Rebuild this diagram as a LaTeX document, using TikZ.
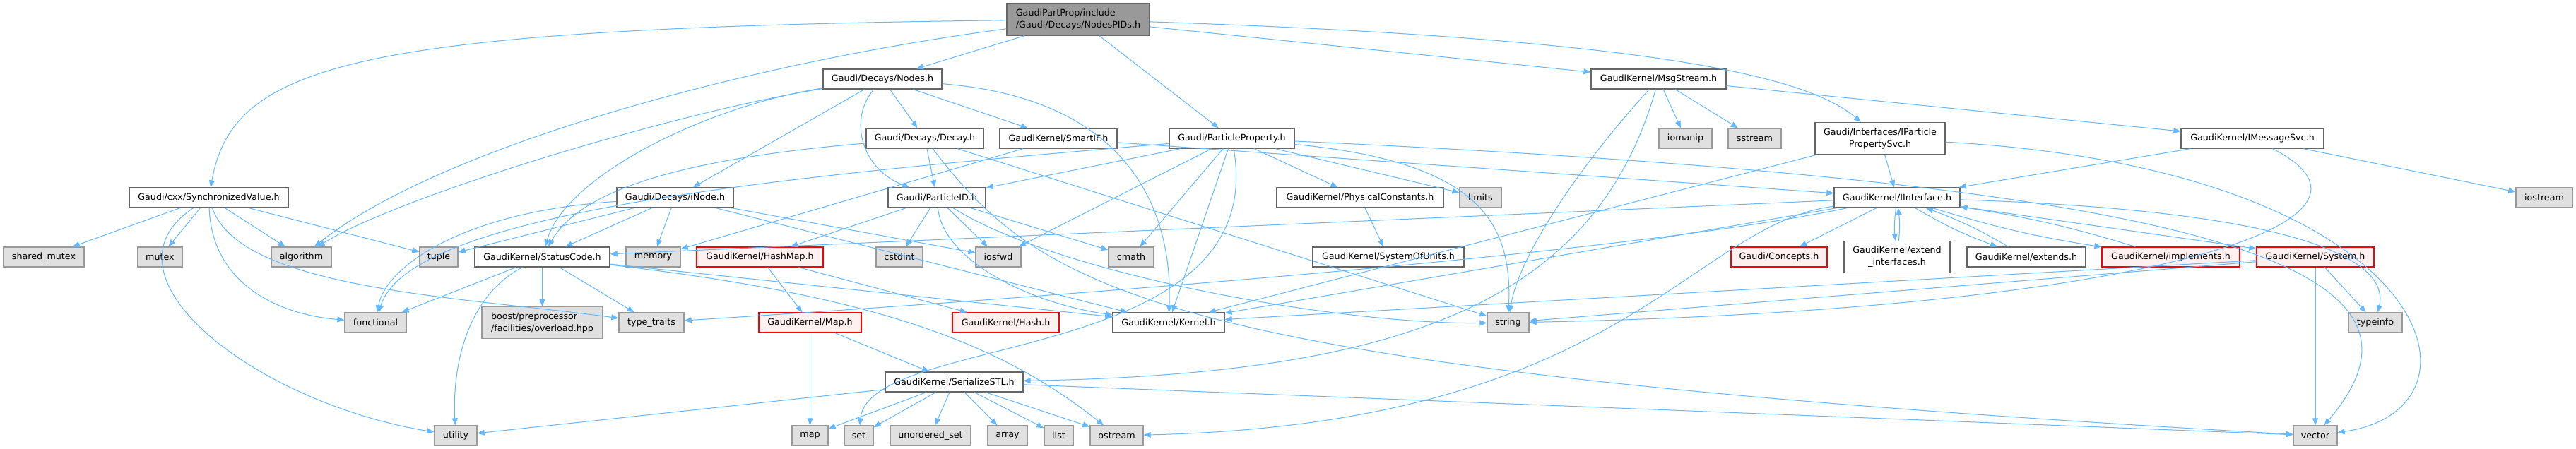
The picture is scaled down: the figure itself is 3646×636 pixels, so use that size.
\documentclass[tikz,border=0pt]{standalone}
\usepackage{fontspec}
\setmainfont{DejaVu Sans}
\usetikzlibrary{arrows.meta, positioning}
\definecolor{depC}  {HTML}{63B8FF}
\definecolor{fileC} {HTML}{666666}
\definecolor{sysC}  {HTML}{999999}
\definecolor{sysF}  {HTML}{E0E0E0}
\definecolor{rootF} {HTML}{999999}
\definecolor{truncC}{HTML}{FF0000}
\definecolor{truncF}{HTML}{FFF0F0}
\newcommand{\gfont}{\fontsize{12.7pt}{17pt}\selectfont}
\tikzset{
  hfile/.style  = {rectangle, draw=fileC, fill=white, line width=1.3pt, inner sep=0pt,
                   minimum height=28pt, align=center, font=\gfont},
  sysh/.style   = {hfile, draw=sysC, fill=sysF},
  trunc/.style  = {hfile, draw=truncC, fill=truncF},
  toph/.style   = {hfile, fill=rootF},
  dep/.style    = {-{Triangle[length=10pt, width=8pt]}, draw=depC, line width=1pt},
}

\begin{document}
\begin{tikzpicture}[x=1pt, y=-1pt]
\useasboundingbox (0,0) rectangle (3646,636);
\fill[white] (0,0) rectangle (3646,636);

% ---- Row 0: the file itself ---------------------------------------------------
\node[toph, align=left, minimum width=202pt, minimum height=45pt] (root) at (1526,27.5)
  {GaudiPartProp/include\\/Gaudi/Decays/NodesPIDs.h};

% ---- Row 1 ----------------------------------------------------------------------
\node[hfile, minimum width=168pt] (nodes)     at (1249,112)   {Gaudi/Decays/Nodes.h};
\node[hfile, minimum width=191pt] (msgstream) at (2347.5,112) {GaudiKernel/MsgStream.h};

% ---- Row 2 ----------------------------------------------------------------------
\node[hfile, minimum width=166pt] (decay)   at (1309,196)   {Gaudi/Decays/Decay.h};
\node[hfile, minimum width=166pt] (smartif) at (1498,196)   {GaudiKernel/SmartIF.h};
\node[hfile, minimum width=177pt] (pprop)   at (1743.5,196) {Gaudi/ParticleProperty.h};
\node[sysh,  minimum width=75pt]  (iomanip) at (2385.5,196) {iomanip};
\node[sysh,  minimum width=75pt]  (sstream) at (2483.5,196) {sstream};
\node[hfile, minimum width=184pt, minimum height=45pt] (ippsvc) at (2661,196)
  {Gaudi/Interfaces/IParticle\\PropertySvc.h};
\node[hfile, minimum width=202pt] (imsgsvc) at (3188,196)   {GaudiKernel/IMessageSvc.h};

% ---- Row 3 ----------------------------------------------------------------------
\node[hfile, minimum width=225pt] (syncv)     at (295.5,280)  {Gaudi/cxx/SynchronizedValue.h};
\node[hfile, minimum width=165pt] (inode)     at (955.5,280)  {Gaudi/Decays/iNode.h};
\node[hfile, minimum width=138pt] (pid)       at (1326,280)   {Gaudi/ParticleID.h};
\node[hfile, minimum width=236pt] (physconst) at (1925,280)   {GaudiKernel/PhysicalConstants.h};
\node[sysh,  minimum width=59pt]  (limits)    at (2095.5,280) {limits};
\node[hfile, minimum width=178pt] (iiface)    at (2685,280)   {GaudiKernel/IInterface.h};
\node[sysh,  minimum width=80pt]  (iostream)  at (3601,280)   {iostream};

% ---- Row 4 ----------------------------------------------------------------------
\node[sysh,  minimum width=114pt] (shmutex)    at (62,364)     {shared\_mutex};
\node[sysh,  minimum width=63pt]  (mutex)      at (226.5,364)  {mutex};
\node[sysh,  minimum width=85pt]  (algo)       at (426.5,364)  {algorithm};
\node[sysh,  minimum width=54pt]  (tuple)      at (621,364)    {tuple};
\node[hfile, minimum width=191pt] (statcode)   at (767.5,364)  {GaudiKernel/StatusCode.h};
\node[sysh,  minimum width=77pt]  (memory)     at (924.5,364)  {memory};
\node[trunc, minimum width=179pt] (hashmap)    at (1075.5,364) {GaudiKernel/HashMap.h};
\node[sysh,  minimum width=66pt]  (cstdint)    at (1273,364)   {cstdint};
\node[sysh,  minimum width=64pt]  (iosfwd)     at (1413,364)   {iosfwd};
\node[sysh,  minimum width=64pt]  (cmath)      at (1601,364)   {cmath};
\node[hfile, minimum width=214pt] (sysunits)   at (1965,364)   {GaudiKernel/SystemOfUnits.h};
\node[trunc, minimum width=136pt] (concepts)   at (2518,364)   {Gaudi/Concepts.h};
\node[hfile, minimum width=150pt, minimum height=45pt] (extiface) at (2685,364)
  {GaudiKernel/extend\\\_interfaces.h};
\node[hfile, minimum width=168pt] (extends)    at (2868,364)   {GaudiKernel/extends.h};
\node[trunc, minimum width=195pt] (implements) at (3072.5,364) {GaudiKernel/implements.h};
\node[trunc, minimum width=166pt] (system)     at (3277,364)   {GaudiKernel/System.h};

% ---- Row 5 ----------------------------------------------------------------------
\node[sysh,  minimum width=87pt]  (functional) at (531.5,457) {functional};
\node[sysh,  align=left, minimum width=171pt, minimum height=45pt] (boost) at (767.5,457)
  {boost/preprocessor\\/facilities/overload.hpp};
\node[sysh,  minimum width=92pt]  (ttraits)    at (922,457)    {type\_traits};
\node[trunc, minimum width=145pt] (mapH)       at (1146.5,457) {GaudiKernel/Map.h};
\node[trunc, minimum width=151pt] (hashH)      at (1423.5,457) {GaudiKernel/Hash.h};
\node[hfile, minimum width=158pt] (kernel)     at (1654,457)   {GaudiKernel/Kernel.h};
\node[sysh,  minimum width=59pt]  (string)     at (2134.5,457) {string};
\node[sysh,  minimum width=76pt]  (typeinfo)   at (3362,457)   {typeinfo};

% ---- Row 6 and 7 ----------------------------------------------------------------
\node[hfile, minimum width=195pt] (serstl)  at (1350.5,541) {GaudiKernel/SerializeSTL.h};

\node[sysh, minimum width=60pt]  (utility) at (645,617)    {utility};
\node[sysh, minimum width=51pt]  (stdmap)  at (1146.5,617) {map};
\node[sysh, minimum width=41pt]  (stdset)  at (1215.5,617) {set};
\node[sysh, minimum width=114pt] (uset)    at (1317,617)   {unordered\_set};
\node[sysh, minimum width=56pt]  (array)   at (1426,617)   {array};
\node[sysh, minimum width=41pt]  (list)    at (1498.5,617) {list};
\node[sysh, minimum width=75pt]  (ostream) at (1580.5,617) {ostream};
\node[sysh, minimum width=62pt]  (vector)  at (3277,617)   {vector};

% ---- Edges: NodesPIDs.h ----------------------------------------------------------
\draw[dep] (root) -- (nodes);
\draw[dep] (root) -- (pprop);
\draw[dep] (root) -- (msgstream);
\draw[dep] (root) .. controls (2350,55) and (2560,110) .. (ippsvc);
\draw[dep] (root) .. controls (500,40) and (330,90) .. (syncv);
\draw[dep] (root) .. controls (1050,90) and (620,210) .. (algo);

% ---- Edges: Nodes.h / Decay.h / SmartIF.h ----------------------------------------
\draw[dep] (nodes) -- (inode);
\draw[dep] (nodes) -- (decay);
\draw[dep] (nodes) -- (smartif);
\draw[dep] (nodes) .. controls (1200,170) and (1220,240) .. (pid);
\draw[dep] (nodes) .. controls (1000,150) and (800,250) .. (statcode);
\draw[dep] (nodes) .. controls (950,160) and (560,280) .. (algo);
\draw[dep] (nodes) .. controls (1600,140) and (1660,300) .. (kernel);

\draw[dep] (decay) -- (pid);
\draw[dep] (decay) .. controls (900,230) and (810,290) .. (statcode);
\draw[dep] (decay) -- (string);
\draw[dep] (decay) .. controls (1480,420) and (1650,525) .. (vector);

\draw[dep] (smartif) -- (iiface);
\draw[dep] (smartif) -- (memory);

% ---- Edges: ParticleProperty.h -------------------------------------------------
\draw[dep] (pprop) -- (pid);
\draw[dep] (pprop) .. controls (1100,250) and (580,300) .. (functional);
\draw[dep] (pprop) -- (iosfwd);
\draw[dep] (pprop) -- (cmath);
\draw[dep] (pprop) -- (kernel);
\draw[dep] (pprop) .. controls (1800,520) and (1230,470) .. (stdset);
\draw[dep] (pprop) -- (physconst);
\draw[dep] (pprop) -- (limits);
\draw[dep] (pprop) .. controls (2100,230) and (2140,320) .. (string);
\draw[dep] (pprop) .. controls (3150,260) and (3480,380) .. (vector);

% ---- Edges: MsgStream.h and the services ----------------------------------------
\draw[dep] (msgstream) -- (iomanip);
\draw[dep] (msgstream) -- (sstream);
\draw[dep] (msgstream) -- (imsgsvc);
\draw[dep] (msgstream) .. controls (2240,230) and (2150,360) .. (string);
\draw[dep] (msgstream) .. controls (2260,420) and (2000,530) .. (serstl);

\draw[dep] (ippsvc) -- (iiface);
\draw[dep] (ippsvc) -- (kernel);
\draw[dep] (ippsvc) .. controls (3450,240) and (3540,580) .. (vector);

\draw[dep] (imsgsvc) -- (iiface);
\draw[dep] (imsgsvc) -- (iostream);
\draw[dep] (imsgsvc) .. controls (3430,320) and (3000,440) .. (string);

% ---- Edges: SynchronizedValue.h and iNode.h ------------------------------------
\draw[dep] (syncv) -- (shmutex);
\draw[dep] (syncv) -- (mutex);
\draw[dep] (syncv) -- (algo);
\draw[dep] (syncv) -- (tuple);
\draw[dep] (syncv) .. controls (300,400) and (390,445) .. (functional);
\draw[dep] (syncv) .. controls (340,410) and (650,420) .. (ttraits);
\draw[dep] (syncv) .. controls (130,390) and (360,570) .. (utility);

\draw[dep] (inode) -- (statcode);
\draw[dep] (inode) -- (memory);
\draw[dep] (inode) -- (kernel);
\draw[dep] (inode) -- (iosfwd);
\draw[dep] (inode) -- (tuple);
\draw[dep] (inode) .. controls (650,300) and (545,380) .. (functional);

% ---- Edges: ParticleID.h and StatusCode.h -------------------------------------
\draw[dep] (pid) -- (hashmap);
\draw[dep] (pid) -- (cstdint);
\draw[dep] (pid) -- (iosfwd);
\draw[dep] (pid) -- (cmath);
\draw[dep] (pid) .. controls (1335,370) and (1460,430) .. (kernel);
\draw[dep] (pid) .. controls (1500,390) and (1900,460) .. (string);

\draw[dep] (statcode) -- (functional);
\draw[dep] (statcode) -- (boost);
\draw[dep] (statcode) -- (ttraits);
\draw[dep] (statcode) -- (kernel);
\draw[dep] (statcode) .. controls (660,420) and (640,520) .. (utility);
\draw[dep] (statcode) .. controls (1250,420) and (1420,490) .. (ostream);

% ---- Edges: maps and SerializeSTL.h --------------------------------------------
\draw[dep] (hashmap) -- (mapH);
\draw[dep] (hashmap) -- (hashH);
\draw[dep] (mapH) -- (stdmap);
\draw[dep] (mapH) -- (serstl);
\draw[dep] (physconst) -- (sysunits);

\foreach \dst in {utility, stdmap, stdset, uset, array, list, ostream, vector}
  \draw[dep] (serstl) -- (\dst);

% ---- Edges: IInterface.h -------------------------------------------------------
\draw[dep] (iiface) -- (concepts);
\draw[dep] (iiface) to[bend right=6] (extiface);
\draw[dep] (extiface) to[bend right=6] (iiface);
\draw[dep] (iiface) to[bend right=5] (extends);
\draw[dep] (extends) to[bend right=5] (iiface);
\draw[dep] (iiface) to[bend right=4] (implements);
\draw[dep] (implements) to[bend right=4] (iiface);
\draw[dep] (iiface) -- (system);
\draw[dep] (iiface) .. controls (3300,300) and (3380,380) .. (typeinfo);
\draw[dep] (iiface) .. controls (2390,320) and (2300,600) .. (ostream);
\draw[dep] (iiface) -- (statcode);
\draw[dep] (iiface) -- (kernel);
\draw[dep] (iiface) .. controls (2300,360) and (1500,420) .. (ttraits);

\draw[dep] (system) -- (kernel);
\draw[dep] (system) -- (string);
\draw[dep] (system) -- (typeinfo);
\draw[dep] (system) -- (vector);

\end{tikzpicture}
\end{document}
